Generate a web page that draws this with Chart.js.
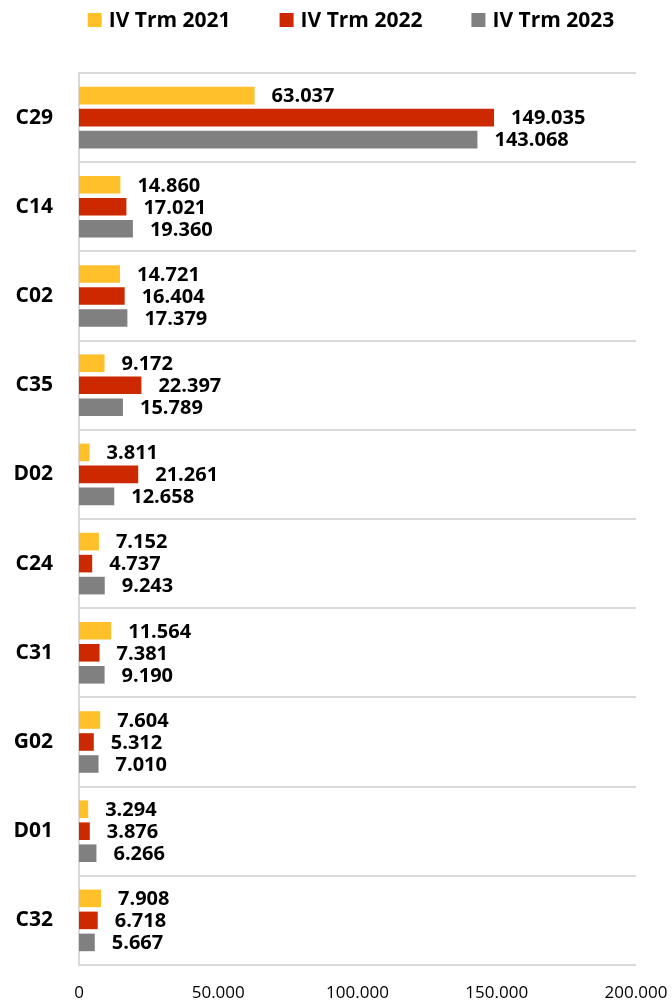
<!DOCTYPE html>
<html>
<head>
<meta charset="utf-8">
<script src="https://cdn.jsdelivr.net/npm/chart.js@4.4.1/dist/chart.umd.min.js"></script>
<style>
  body { margin: 0; background: #fff; }
</style>
</head>
<body>
<canvas id="barChart" width="672" height="1002"></canvas>
<script>
const categories = ["C29", "C14", "C02", "C35", "D02", "C24", "C31", "G02", "D01", "C32"];
const seriesNames = ["IV Trm 2021", "IV Trm 2022", "IV Trm 2023"];
const trm2021 = [63037, 14860, 14721, 9172, 3811, 7152, 11564, 7604, 3294, 7908];
const trm2022 = [149035, 17021, 16404, 22397, 21261, 4737, 7381, 5312, 3876, 6718];
const trm2023 = [143068, 19360, 17379, 15789, 12658, 9243, 9190, 7010, 6266, 5667];
const xTicks = [0, 50000, 100000, 150000, 200000];

const colors = ["#ffc02a", "#cc2900", "#808080"];
const FONT = "'Open Sans', 'DejaVu Sans', sans-serif";

// 63037 -> "63.037"
const fmt = v => String(v).replace(/\B(?=(\d{3})+(?!\d))/g, ".");

// legend drawn on the canvas above the plot
const topLegend = {
  id: "topLegend",
  afterDraw(chart) {
    const ctx = chart.ctx;
    const box = 14, gapText = 7, gapItem = 49;
    ctx.save();
    ctx.font = "bold 21px " + FONT;
    ctx.textBaseline = "middle";
    const widths = chart.data.datasets.map(d => ctx.measureText(d.label).width);
    let total = widths.reduce((a, w) => a + box + gapText + w, 0) + gapItem * (widths.length - 1);
    let x = 351 - total / 2;
    chart.data.datasets.forEach((d, i) => {
      ctx.fillStyle = d.backgroundColor;
      ctx.fillRect(x, 13, box, box);
      ctx.fillStyle = "#000";
      ctx.fillText(d.label, x + box + gapText, 21);
      x += box + gapText + widths[i] + gapItem;
    });
    ctx.restore();
  }
};

// value labels at the end of each bar
const barLabels = {
  id: "barLabels",
  afterDatasetsDraw(chart) {
    const ctx = chart.ctx;
    ctx.save();
    ctx.font = "bold 20px " + FONT;
    ctx.fillStyle = "#000";
    ctx.textBaseline = "middle";
    ctx.textAlign = "left";
    chart.data.datasets.forEach((d, i) => {
      chart.getDatasetMeta(i).data.forEach((bar, j) => {
        ctx.fillText(fmt(d.data[j]), bar.x + 17, bar.y + 1);
      });
    });
    ctx.restore();
  }
};

const ctx = document.getElementById("barChart").getContext("2d");
new Chart(ctx, {
  type: "bar",
  data: {
    labels: categories,
    datasets: [trm2021, trm2022, trm2023].map((values, i) => ({
      label: seriesNames[i],
      data: values,
      backgroundColor: colors[i],
      borderWidth: 0,
      categoryPercentage: 0.74,
      barPercentage: 0.8
    }))
  },
  options: {
    indexAxis: "y",
    responsive: false,
    devicePixelRatio: 1,
    animation: false,
    layout: { padding: { top: 73, left: 0, right: 36, bottom: 0 } },
    plugins: {
      legend: { display: false },
      tooltip: { enabled: false }
    },
    scales: {
      x: {
        min: xTicks[0],
        max: xTicks[xTicks.length - 1],
        afterBuildTicks: scale => { scale.ticks = xTicks.map(v => ({ value: v })); },
        afterFit: scale => {
          scale.height = 37;
          scale.paddingLeft = 0;
          scale.paddingRight = 0;
        },
        ticks: {
          callback: v => fmt(v),
          color: "#000",
          padding: 18,
          maxRotation: 0,
          font: { family: FONT, size: 17 }
        },
        grid: { display: false, drawTicks: false },
        border: { display: false }
      },
      y: {
        afterFit: scale => {
          scale.width = 79;
          scale.paddingTop = 0;
          scale.paddingBottom = 0;
        },
        ticks: {
          color: "#000",
          padding: 26,
          font: { family: FONT, size: 21, weight: "bold" }
        },
        grid: { color: "#d9d9d9", lineWidth: 2, drawTicks: false },
        border: { display: true, color: "#d9d9d9", width: 2 }
      }
    }
  },
  plugins: [topLegend, barLabels]
});
</script>
</body>
</html>
